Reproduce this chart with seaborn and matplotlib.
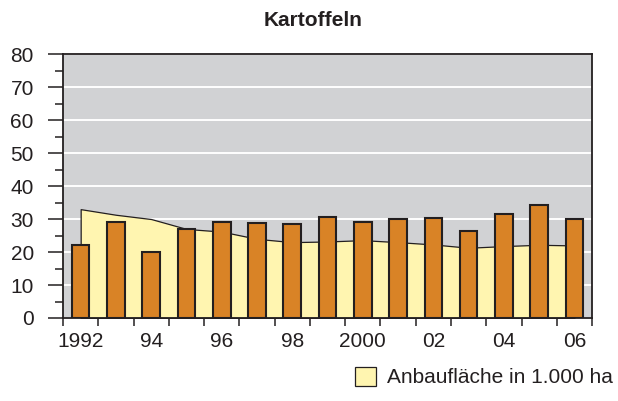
import numpy as np
import pandas as pd
import matplotlib
matplotlib.use("Agg")
import matplotlib.pyplot as plt
from matplotlib.ticker import FixedLocator, MultipleLocator
import seaborn as sns

# data
years = [1992, 1993, 1994, 1995, 1996, 1997, 1998, 1999,
         2000, 2001, 2002, 2003, 2004, 2005, 2006]
# orange bars
bar_values = [22.0, 29.0, 20.0, 27.0, 29.2, 28.9, 28.4, 30.7,
              29.2, 30.0, 30.4, 26.5, 31.6, 34.4, 29.9]
# yellow area: Anbauflaeche in 1.000 ha
area_values = [33.0, 31.3, 30.0, 27.0, 26.2, 24.0, 23.0, 23.2,
               23.6, 23.0, 22.3, 21.3, 21.8, 22.2, 22.0]
label_years = [1992, 1994, 1996, 1998, 2000, 2002, 2004, 2006]
tick_labels = ["1992", "94", "96", "98", "2000", "02", "04", "06"]

title = "Kartoffeln"
legend_label = "Anbaufläche in 1.000 ha"

sns.set_theme(style="white")
plt.rcParams["font.family"] = ["Liberation Sans", "DejaVu Sans"]

dark = "#231f20"
gray_bg = "#d1d2d4"
yellow = "#fff5b0"
orange = "#d98326"

df = pd.DataFrame({"year": years, "value": bar_values})

fig = plt.figure(figsize=(6.18, 4.01), dpi=100)
ax = fig.add_axes([0.102, 0.207, 0.856, 0.658])
ax.set_facecolor(gray_bg)

area = ax.fill_between(years, area_values, 0, facecolor=yellow,
                       edgecolor=dark, linewidth=0.9, zorder=1)

sns.barplot(data=df, x="year", y="value", native_scale=True, width=0.5,
            color=orange, saturation=1, edgecolor=dark, linewidth=1.5,
            legend=False, ax=ax, zorder=2)

ax.set_xlim(1991.5, 2006.5)
ax.set_ylim(0, 80)
ax.set_xlabel("")
ax.set_ylabel("")

# y axis: majors every 10 with labels, minors in between
ax.yaxis.set_major_locator(MultipleLocator(10))
ax.yaxis.set_minor_locator(FixedLocator(np.arange(5, 80, 10)))
ax.tick_params(axis="y", which="major", left=True, length=11, width=1.1,
               color=dark, labelsize=15, labelcolor=dark, pad=10)
ax.tick_params(axis="y", which="minor", left=True, length=5.5, width=1.1,
               color=dark)
ax.grid(axis="y", which="major", color="white", linewidth=1.4)
ax.set_axisbelow(True)

# x axis: tick marks on slot edges, labels at the year centres
ax.xaxis.set_major_locator(FixedLocator(np.arange(1991.5, 2007, 1)))
ax.xaxis.set_major_formatter(plt.NullFormatter())
ax.xaxis.set_minor_locator(FixedLocator(label_years))
ax.set_xticklabels(tick_labels, minor=True)
ax.tick_params(axis="x", which="major", bottom=True, length=6, width=1.1,
               color=dark)
ax.tick_params(axis="x", which="minor", bottom=True, length=0,
               labelsize=15, labelcolor=dark, pad=10)
ax.grid(axis="x", visible=False)

for sp in ax.spines.values():
    sp.set_color(dark)
    sp.set_linewidth(1.3)
    sp.set_visible(True)

fig.text(0.506, 0.948, title, ha="center", va="center",
         fontsize=15, fontweight="bold", color=dark)

fig.legend(handles=[area], labels=[legend_label], loc="lower right",
           bbox_to_anchor=(1.013, 0.0), borderaxespad=0.25, frameon=False,
           fontsize=15, handlelength=1.0, handleheight=1.0,
           handletextpad=0.5, labelcolor=dark)

fig.savefig("out.png", dpi=100)
